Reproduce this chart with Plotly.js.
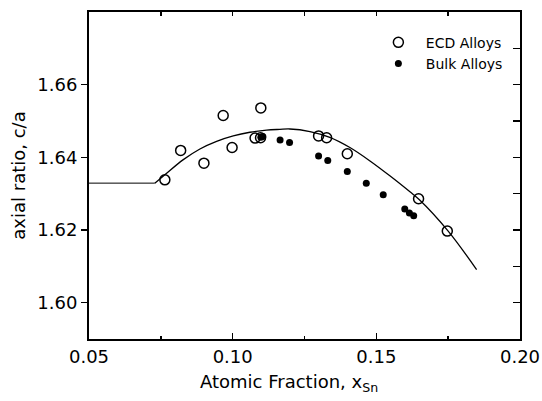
<!DOCTYPE html>
<html><head><meta charset="utf-8">
<script src="https://cdn.plot.ly/plotly-3.0.1.min.js"></script>
<style>html,body{margin:0;padding:0;background:#fff}#plot{width:542px;height:401px}</style>
</head><body><div id="plot"></div>
<script>
// ECD alloys (open circles)
var ecdX = [0.0764, 0.0819, 0.0900, 0.0967, 0.0998, 0.1078, 0.1097, 0.1098, 0.1299, 0.1327, 0.1399, 0.1647, 0.1747];
var ecdY = [1.6338, 1.6419, 1.6384, 1.6515, 1.6427, 1.6453, 1.6454, 1.6536, 1.6459, 1.6454, 1.6410, 1.6286, 1.6197];
// Bulk alloys (filled circles)
var bulkX = [0.1098, 0.1105, 0.1165, 0.1198, 0.1299, 0.1331, 0.1399, 0.1465, 0.1524, 0.1599, 0.1615, 0.1630];
var bulkY = [1.6455, 1.6457, 1.6448, 1.6441, 1.6404, 1.6391, 1.6361, 1.6329, 1.6297, 1.6258, 1.6247, 1.6239];
// fitted curve
var flatX = [0.05, 0.0729];
var flatY = [1.6329, 1.6329];
var curveX = [0.0729, 0.0764, 0.0827, 0.0886, 0.0944, 0.1002, 0.1060, 0.1118, 0.1164, 0.1199, 0.1269, 0.1338, 0.1408, 0.1478, 0.1547, 0.1617, 0.1649, 0.1750, 0.1849];
var curveY = [1.6329, 1.6352, 1.6393, 1.6423, 1.6444, 1.6459, 1.6469, 1.6475, 1.6477, 1.6478, 1.6471, 1.6455, 1.6427, 1.6390, 1.6349, 1.6305, 1.6284, 1.6197, 1.6091];
var xRange = [0.05, 0.20];
var yRange = [1.59, 1.68];
var xTickVals = [0.05, 0.10, 0.15, 0.20];
var xTickText = ['0.05', '0.10', '0.15', '0.20'];
var yTickVals = [1.60, 1.62, 1.64, 1.66];
var yTickText = ['1.60', '1.62', '1.64', '1.66'];
var xTitle = 'Atomic Fraction, x<sub>Sn</sub>';
var yTitle = 'axial ratio, c/a';

var F = 'DejaVu Sans, Verdana, sans-serif';
var traces = [
  {x: flatX, y: flatY, mode: 'lines', line: {color: '#000', width: 1}, showlegend: false, hoverinfo: 'skip'},
  {x: curveX, y: curveY, mode: 'lines', line: {color: '#000', width: 1.3, shape: 'spline', smoothing: 1}, showlegend: false, hoverinfo: 'skip'},
  {x: ecdX, y: ecdY, mode: 'markers', name: 'ECD Alloys',
   marker: {symbol: 'circle-open', size: 10, color: '#000', line: {width: 1.5, color: '#000'}}},
  {x: bulkX, y: bulkY, mode: 'markers', name: 'Bulk Alloys',
   marker: {symbol: 'circle', size: 7, color: '#000'}},
  {x: [], y: [], xaxis: 'x2', yaxis: 'y2', showlegend: false, hoverinfo: 'skip'}
];
var layout = {
  width: 542, height: 401,
  margin: {l: 89, r: 22, t: 12, b: 62},
  paper_bgcolor: '#fff', plot_bgcolor: '#fff',
  font: {family: F, color: '#000', size: 18},
  showlegend: true,
  legend: {x: 0.654, y: 0.955, xanchor: 'left', yanchor: 'top', bgcolor: 'rgba(0,0,0,0)',
           font: {family: F, size: 14}, itemwidth: 45, tracegroupgap: 0},
  annotations: [{text: xTitle, xref: 'paper', yref: 'paper', x: 0.465, y: -0.136,
                 xanchor: 'center', yanchor: 'middle', showarrow: false, font: {family: F, size: 18, color: '#000'}}],
  xaxis: {range: xRange, tickvals: xTickVals, ticktext: xTickText, showgrid: false, zeroline: false,
          showline: true, linecolor: '#000', linewidth: 2, ticks: 'inside', ticklen: 6, tickwidth: 1.5, tickcolor: '#000',
          minor: {tickvals: [0.075, 0.125, 0.175], ticks: 'inside', ticklen: 3.5, tickwidth: 1.5, tickcolor: '#000'},
          tickfont: {family: F, size: 18}},
  yaxis: {range: yRange, tickvals: yTickVals, ticktext: yTickText, showgrid: false, zeroline: false,
          showline: true, linecolor: '#000', linewidth: 2, ticks: 'outside', ticklen: 6, tickwidth: 1.5, tickcolor: '#000',
          tickfont: {family: F, size: 18},
          title: {text: yTitle, font: {family: F, size: 18}, standoff: 7}},
  xaxis2: {overlaying: 'x', side: 'top', range: xRange, showgrid: false, zeroline: false, showline: true,
           linecolor: '#000', linewidth: 2, showticklabels: false,
           tickvals: [0.075, 0.10, 0.125, 0.15, 0.175], ticks: 'inside', ticklen: 4, tickwidth: 1.5, tickcolor: '#000'},
  yaxis2: {overlaying: 'y', side: 'right', anchor: 'x', range: yRange, showgrid: false, zeroline: false, showline: true,
           linecolor: '#000', linewidth: 2, showticklabels: false,
           tickvals: [1.60, 1.61, 1.62, 1.63, 1.64, 1.65, 1.66, 1.67], ticks: 'inside', ticklen: 7, tickwidth: 1.5, tickcolor: '#000'}
};
Plotly.newPlot('plot', traces, layout, {displayModeBar: false, staticPlot: true});
</script></body></html>
